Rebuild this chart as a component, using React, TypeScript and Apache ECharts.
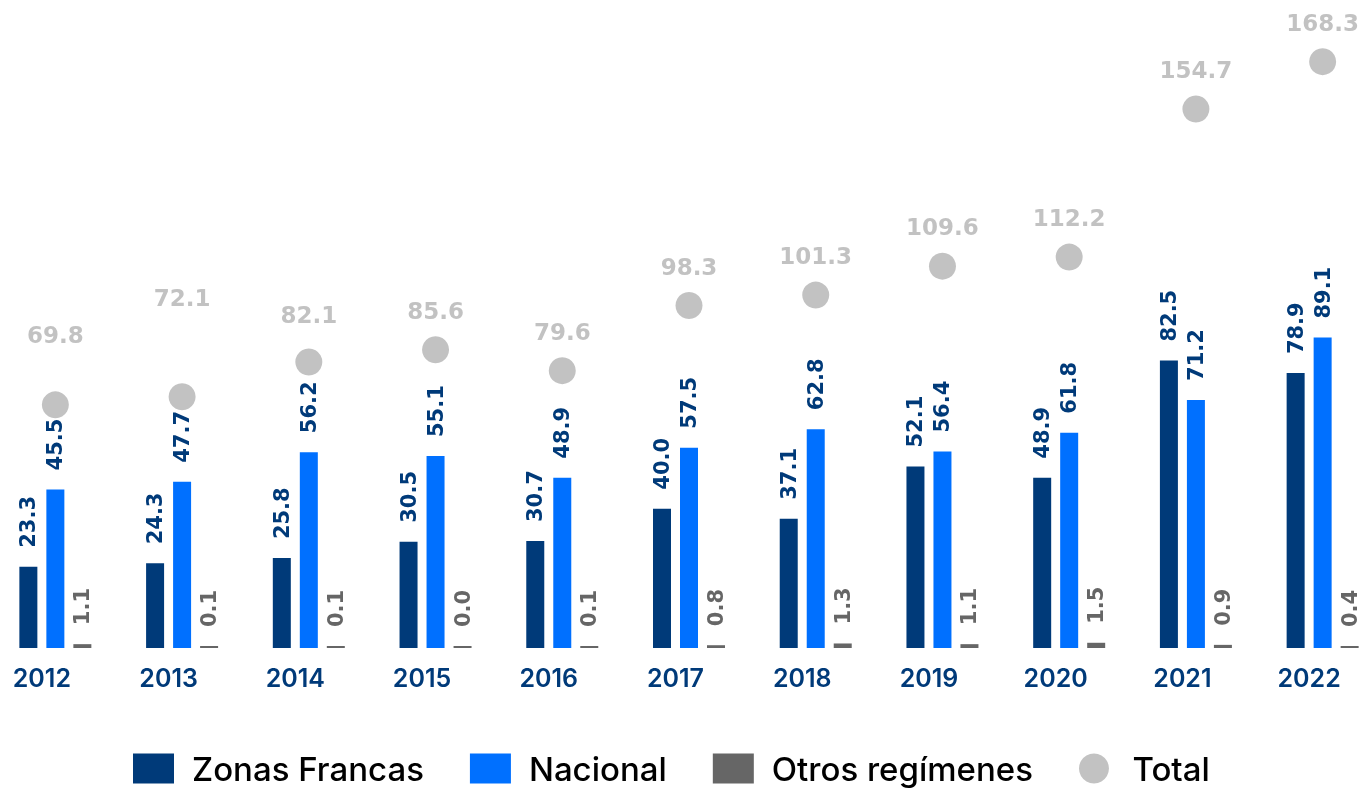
import React, { useEffect, useRef } from "react";
import * as echarts from "echarts";

const years = ["2012", "2013", "2014", "2015", "2016", "2017", "2018", "2019", "2020", "2021", "2022"];
const zonasFrancas = [23.3, 24.3, 25.8, 30.5, 30.7, 40.0, 37.1, 52.1, 48.9, 82.5, 78.9];
const nacional = [45.5, 47.7, 56.2, 55.1, 48.9, 57.5, 62.8, 56.4, 61.8, 71.2, 89.1];
const otros = [1.1, 0.1, 0.1, 0.0, 0.1, 0.8, 1.3, 1.1, 1.5, 0.9, 0.4];
const total = [69.8, 72.1, 82.1, 85.6, 79.6, 98.3, 101.3, 109.6, 112.2, 154.7, 168.3];

// extra upward shift of some Total labels (style only)
const totalLabelLift = [31, 60, 8, 0, 0, 0, 0, 0, 0, 0, 0];

const NAVY = "#003A79";
const BLUE = "#0070FF";
const GRAY = "#666666";
const LIGHT = "#B3B3B3";
const VALUE_FONT = "DejaVu Sans";
const TEXT_FONT = "Inter";

export default function App() {
  const ref = useRef<HTMLDivElement>(null);
  useEffect(() => {
    if (!ref.current) return;
    const chart = echarts.init(ref.current, null, { renderer: "svg" });
    const barLabel = (color: string) => ({
      show: true,
      position: "top",
      rotate: 90,
      align: "left",
      verticalAlign: "middle",
      distance: 19,
      color,
      fontFamily: VALUE_FONT,
      fontWeight: "bold",
      fontSize: 21,
      formatter: (p: any) => Number(p.value).toFixed(1),
    });
    chart.setOption({
      animation: false,
      grid: { left: 0, right: 0, top: 0, bottom: 142, containLabel: false },
      legend: {
        bottom: 0,
        left: 136,
        itemWidth: 41,
        itemHeight: 30,
        itemGap: 46,
        textStyle: {
          fontFamily: TEXT_FONT,
          fontWeight: 500,
          fontSize: 33,
          color: "#000",
          padding: [0, 0, 0, 13],
        },
        data: [
          { name: "Zonas Francas", icon: "rect" },
          { name: "Nacional", icon: "rect" },
          { name: "Otros regímenes", icon: "rect" },
          { name: "Total", icon: "circle" },
        ],
      },
      xAxis: {
        type: "category",
        data: years,
        axisLine: { show: false },
        axisTick: { show: false },
        axisLabel: {
          color: NAVY,
          fontFamily: TEXT_FONT,
          fontWeight: 600,
          fontSize: 25,
          margin: 17,
          padding: [0, 27, 0, 0],
        },
      },
      yAxis: {
        type: "value",
        min: 0,
        max: 186,
        show: false,
        splitLine: { show: false },
      },
      series: [
        {
          name: "Zonas Francas",
          type: "bar",
          data: zonasFrancas,
          barWidth: 18,
          barGap: "50%",
          itemStyle: { color: NAVY },
          label: barLabel(NAVY),
        },
        {
          name: "Nacional",
          type: "bar",
          data: nacional,
          barWidth: 18,
          barGap: "50%",
          itemStyle: { color: BLUE },
          label: barLabel(NAVY),
        },
        {
          name: "Otros regímenes",
          type: "bar",
          data: otros,
          barWidth: 18,
          barGap: "50%",
          barMinHeight: 2,
          itemStyle: { color: GRAY },
          label: barLabel(GRAY),
        },
        {
          name: "Total",
          type: "scatter",
          data: total.map((v, i) => ({
            value: v,
            label: { offset: [0, -totalLabelLift[i]] },
          })),
          symbol: "circle",
          symbolSize: 27,
          z: 5,
          itemStyle: { color: LIGHT },
          label: {
            show: true,
            position: "top",
            distance: 14,
            color: LIGHT,
            fontFamily: VALUE_FONT,
            fontWeight: "bold",
            fontSize: 23,
            formatter: (p: any) => Number(p.value).toFixed(1),
          },
        },
      ],
    });
    return () => chart.dispose();
  }, []);
  return (
    <div
      ref={ref}
      style={{ position: "fixed", left: -8, top: 0, width: 1394, height: 790 }}
    />
  );
}
